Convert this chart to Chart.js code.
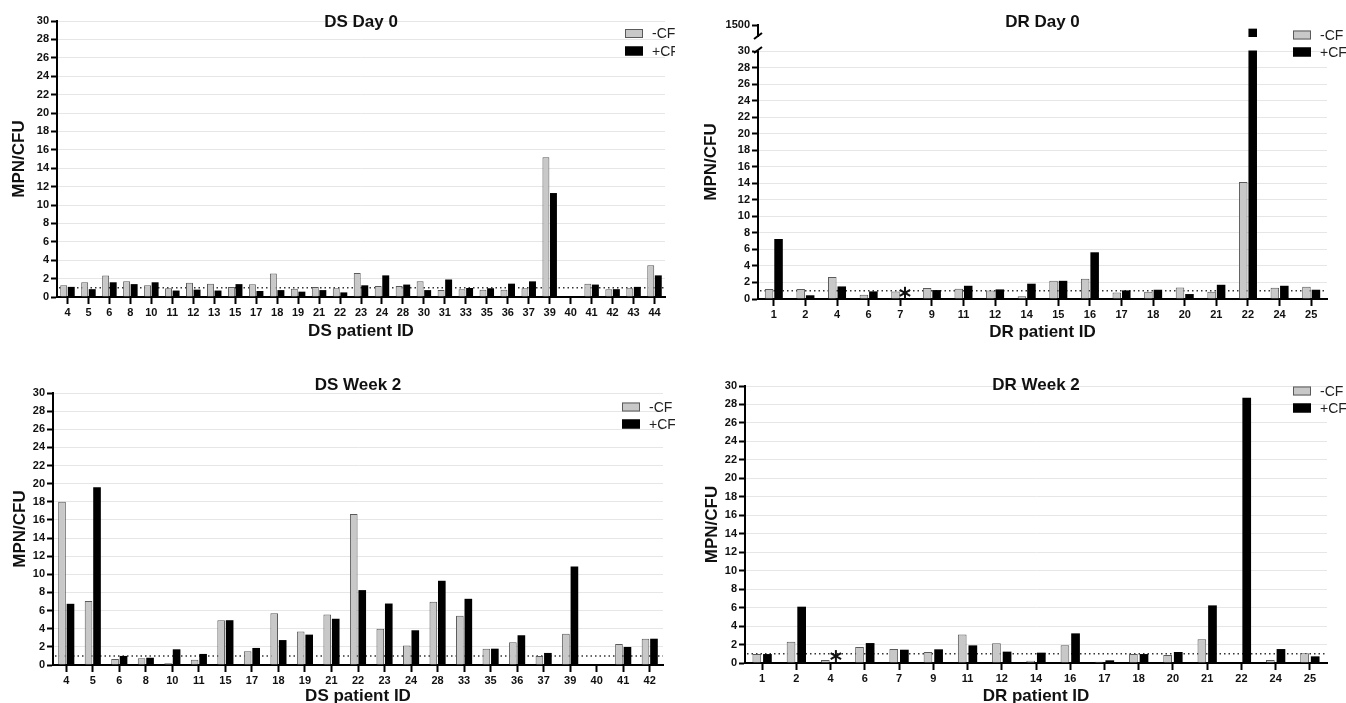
<!DOCTYPE html>
<html>
<head>
<meta charset="utf-8">
<script src="https://cdn.jsdelivr.net/npm/chart.js@4.4.1/dist/chart.umd.min.js"></script>
<style>
    html, body { margin: 0; padding: 0; background: #fff; overflow: hidden; width: 1346px; height: 703px; }
    canvas { position: absolute; }
</style>
</head>
<body>
<canvas id="dsDay0" width="675" height="342" style="left:0px;top:0px;width:675px;height:342px"></canvas>
<canvas id="drDay0" width="656" height="343" style="left:690px;top:0px;width:656px;height:343px"></canvas>
<canvas id="dsWeek2" width="675" height="347" style="left:0px;top:360px;width:675px;height:347px"></canvas>
<canvas id="drWeek2" width="656" height="347" style="left:690px;top:360px;width:656px;height:347px"></canvas>
<script>
// detection limit line and where the "*" marks sit
const threshold = 1;
const starValue = 0.75;

const dsDay0Ids = ["4", "5", "6", "8", "10", "11", "12", "13", "15", "17", "18", "19", "21", "22", "23",
    "24", "28", "30", "31", "33", "35", "36", "37", "39", "40", "41", "42", "43", "44"];
const dsDay0Minus = [1.27, 1.6, 2.35, 1.7, 1.27, 0.95, 1.55, 1.45, 1.1, 1.38, 2.55, 0.9, 1.1, 0.95, 2.6,
    1.2, 1.2, 1.7, 0.75, 0.85, 0.8, 0.8, 0.95, 15.2, null, 1.45, 0.85, 0.95, 3.45];
const dsDay0Plus = [1.1, 0.85, 1.6, 1.4, 1.6, 0.7, 0.8, 0.7, 1.4, 0.65, 0.75, 0.58, 0.75, 0.5, 1.27,
    2.35, 1.35, 0.75, 1.9, 0.98, 0.95, 1.45, 1.7, 11.3, null, 1.35, 0.85, 1.1, 2.35];

const drDay0Ids = ["1", "2", "4", "6", "7", "9", "11", "12", "14", "15", "16", "17", "18", "20", "21", "22", "24", "25"];
const drDay0Minus = [1.2, 1.2, 2.65, 0.52, 0.92, 1.32, 1.24, 1.04, 0.32, 2.2, 2.45, 0.8, 0.88, 1.4, 0.88, 14.16, 1.36, 1.48];
const drDay0Plus = [7.26, 0.45, 1.52, 0.92, null, 1.08, 1.6, 1.16, 1.85, 2.2, 5.65, 1.04, 1.12, 0.6, 1.72, 1430, 1.6, 1.12];
const drDay0Starred = ["7"];

const dsWeek2Ids = ["4", "5", "6", "8", "10", "11", "15", "17", "18", "19", "21", "22", "23", "24", "28",
    "33", "35", "36", "37", "39", "40", "41", "42"];
const dsWeek2Minus = [18.0, 7.07, 0.66, 0.74, 0.18, 0.59, 4.94, 1.51, 5.7, 3.69, 5.57, 16.66, 4.0, 2.14, 6.97,
    5.42, 1.8, 2.5, 1.0, 3.46, null, 2.32, 2.9];
const dsWeek2Plus = [6.75, 19.6, 1.0, 0.8, 1.73, 1.22, 4.94, 1.88, 2.75, 3.35, 5.1, 8.26, 6.78, 3.83, 9.29,
    7.3, 1.8, 3.28, 1.33, 10.87, null, 1.99, 2.9];

const drWeek2Ids = ["1", "2", "4", "6", "7", "9", "11", "12", "14", "16", "17", "18", "20", "21", "22", "24", "25"];
const drWeek2Minus = [0.97, 2.3, 0.32, 1.73, 1.51, 1.19, 3.1, 2.14, 0.25, 1.91, 0.14, 0.97, 0.87, 2.56, null, 0.32, 1.05];
const drWeek2Plus = [0.97, 6.1, null, 2.16, 1.44, 1.48, 1.91, 1.23, 1.12, 3.21, 0.29, 0.97, 1.19, 6.24, 28.74, 1.51, 0.72];
const drWeek2Starred = ["4"];

const minusFill = "#c8c8c8";
const minusEdge = "#5a5a5a";
const plusFill = "#000000";
const gridColor = "#e6e6e6";
const textColor = "#111111";
const fontFamily = "'Liberation Sans', Arial, Helvetica, sans-serif";

Chart.defaults.font.family = fontFamily;
Chart.defaults.animation = false;

// titles, legend, dotted limit line, asterisks and axis break
const panelDecor = {
    id: "panelDecor",
    beforeDatasetsDraw(chart, args, o) {
        const {ctx, chartArea: a} = chart;
        const y = chart.scales.y.getPixelForValue(threshold);
        ctx.save();
        ctx.strokeStyle = "#333";
        ctx.lineWidth = 1.5;
        ctx.setLineDash([1.5, 3]);
        ctx.beginPath();
        ctx.moveTo(a.left + 2, y);
        ctx.lineTo(a.right, y);
        ctx.stroke();
        ctx.restore();
    },
    afterDraw(chart, args, o) {
        const {ctx, chartArea: a} = chart;
        ctx.save();

        const top = chart.scales.yTop;
        if (top) {
            const ax = a.left;
            const yb = top.bottom;
            ctx.fillStyle = "#fff";
            ctx.fillRect(ax - 4, yb - 14, a.right - ax + 4, 13.5);
            ctx.strokeStyle = "#000";
            ctx.lineWidth = 2;
            [yb - 15, yb - 1].forEach(cy => {
                ctx.beginPath();
                ctx.moveTo(ax - 4, cy + 3);
                ctx.lineTo(ax + 4, cy - 3);
                ctx.stroke();
            });
        }

        ctx.fillStyle = textColor;
        ctx.font = "bold 17px " + fontFamily;
        ctx.textAlign = "center";
        ctx.textBaseline = "middle";
        ctx.fillText(o.title, (a.left + a.right) / 2, o.titleY);

        ctx.save();
        ctx.translate(o.yTitleX, (a.top + a.bottom) / 2);
        ctx.rotate(-Math.PI / 2);
        ctx.fillText("MPN/CFU", 0, 0);
        ctx.restore();

        const items = [
            {label: chart.data.datasets[0].label, fill: minusFill, edge: minusEdge},
            {label: chart.data.datasets[1].label, fill: plusFill, edge: plusFill}
        ];
        ctx.font = "14px " + fontFamily;
        ctx.textAlign = "left";
        items.forEach((it, k) => {
            const y = o.legendY[k];
            ctx.fillStyle = it.fill;
            ctx.fillRect(o.legendX, y - 4.5, 18, 9);
            ctx.strokeStyle = it.edge;
            ctx.lineWidth = 1;
            ctx.strokeRect(o.legendX + 0.5, y - 4, 17, 8);
            ctx.fillStyle = "#222";
            ctx.fillText(it.label, o.legendX + 27, y + 1);
        });

        const meta = chart.getDatasetMeta(1);
        ctx.strokeStyle = textColor;
        ctx.lineWidth = 2;
        (o.starred || []).forEach(id => {
            const i = chart.data.labels.indexOf(id);
            const bar = meta.data[i];
            if (!bar) return;
            const cx = bar.x;
            const cy = chart.scales.y.getPixelForValue(starValue);
            const r = 6;
            [90, 30, 150].forEach(deg => {
                const t = deg * Math.PI / 180;
                ctx.beginPath();
                ctx.moveTo(cx - r * Math.cos(t), cy - r * Math.sin(t));
                ctx.lineTo(cx + r * Math.cos(t), cy + r * Math.sin(t));
                ctx.stroke();
            });
        });

        ctx.restore();
    }
};

function tickFont() {
    return {size: 11, weight: "bold"};
}

function makeChart(id, labels, minus, plus, s) {
    const clip = v => (s.breakAt && v != null) ? Math.min(v, s.breakAt) : v;
    const datasets = [{
        label: "-CF",
        data: minus.map(clip),
        backgroundColor: minusFill,
        borderColor: minusEdge,
        borderWidth: 1,
        stack: "minus",
        yAxisID: "y"
    }, {
        label: "+CF",
        data: plus.map(clip),
        backgroundColor: plusFill,
        borderColor: plusFill,
        borderWidth: 0,
        stack: "plus",
        yAxisID: "y"
    }];

    const scales = {};
    scales.y = {
        type: "linear",
        position: "left",
        min: 0,
        max: 30,
        ticks: {stepSize: 2, autoSkip: false, font: tickFont(), color: textColor, padding: 2},
        grid: {
            color: c => c.tick && c.tick.value === 0 ? "rgba(0,0,0,0)" : gridColor,
            lineWidth: 1,
            tickColor: "#000",
            tickWidth: 2,
            tickLength: 6
        },
        border: {color: "#000", width: 2},
        afterFit: sc => { sc.width = s.yWidth; }
    };

    if (s.breakAt) {
        scales.y.stack = "mpn";
        scales.y.stackWeight = s.lowWeight;
        datasets.push({
            label: "+CF",
            data: plus.map(v => (v != null && v > s.breakAt) ? v : null),
            backgroundColor: plusFill,
            borderColor: plusFill,
            borderWidth: 0,
            stack: "plus",
            yAxisID: "yTop"
        });
        // left boxes are stacked in reverse order, so the upper part comes second
        scales.yTop = {
            type: "linear",
            position: "left",
            min: s.topMin,
            max: s.topMax,
            stack: "mpn",
            stackWeight: s.topWeight,
            afterBuildTicks: sc => { sc.ticks = [{value: s.topMax}]; },
            ticks: {font: tickFont(), color: textColor, padding: 2, callback: v => String(v)},
            grid: {drawOnChartArea: false, tickColor: "#000", tickWidth: 2, tickLength: 6},
            border: {color: "#000", width: 2},
            afterFit: sc => { sc.width = s.yWidth; }
        };
    }

    scales.x = {
        type: "category",
        offset: true,
        grid: {offset: false, drawOnChartArea: false, tickColor: "#000", tickWidth: 2, tickLength: 7},
        border: {color: "#000", width: 2},
        ticks: {autoSkip: false, maxRotation: 0, font: tickFont(), color: textColor, padding: 2},
        title: {display: true, text: s.xTitle, font: {size: 17, weight: "bold"}, color: textColor, padding: 0},
        afterFit: sc => { sc.height = s.xHeight; }
    };

    return new Chart(document.getElementById(id), {
        type: "bar",
        data: {labels: labels, datasets: datasets},
        options: {
            responsive: false,
            devicePixelRatio: 1,
            datasets: {
                bar: {categoryPercentage: s.catPct, barPercentage: s.barPct}
            },
            layout: {padding: {left: 0, top: s.padT, right: s.padR, bottom: 0}},
            scales: scales,
            plugins: {
                legend: {display: false},
                title: {display: false},
                tooltip: {enabled: false},
                panelDecor: {
                    title: s.title,
                    titleY: s.titleY,
                    yTitleX: s.yTitleX,
                    legendX: s.legendX,
                    legendY: s.legendY,
                    starred: s.starred
                }
            }
        },
        plugins: [panelDecor]
    });
}

makeChart("dsDay0", dsDay0Ids, dsDay0Minus, dsDay0Plus, {
    title: "DS Day 0", titleY: 22.5, xTitle: "DS patient ID", yTitleX: 19,
    yWidth: 57, xHeight: 45, padT: 21, padR: 10,
    catPct: 0.72, barPct: 0.92,
    legendX: 625, legendY: [33.5, 51]
});

makeChart("drDay0", drDay0Ids, drDay0Minus, drDay0Plus, {
    title: "DR Day 0", titleY: 22.5, xTitle: "DR patient ID", yTitleX: 21,
    yWidth: 68, xHeight: 44, padT: 25, padR: 19,
    catPct: 0.6, barPct: 0.9,
    legendX: 603, legendY: [35, 52],
    starred: drDay0Starred,
    breakAt: 30, topMin: 1000, topMax: 1500, topWeight: 26, lowWeight: 248
});

makeChart("dsWeek2", dsWeek2Ids, dsWeek2Minus, dsWeek2Plus, {
    title: "DS Week 2", titleY: 25, xTitle: "DS patient ID", yTitleX: 20,
    yWidth: 53, xHeight: 42, padT: 33, padR: 12,
    catPct: 0.64, barPct: 0.9,
    legendX: 622, legendY: [47, 64]
});

makeChart("drWeek2", drWeek2Ids, drWeek2Minus, drWeek2Plus, {
    title: "DR Week 2", titleY: 25, xTitle: "DR patient ID", yTitleX: 22,
    yWidth: 55, xHeight: 44, padT: 26, padR: 19,
    catPct: 0.62, barPct: 0.82,
    legendX: 603, legendY: [31, 48],
    starred: drWeek2Starred
});
</script>
</body>
</html>
